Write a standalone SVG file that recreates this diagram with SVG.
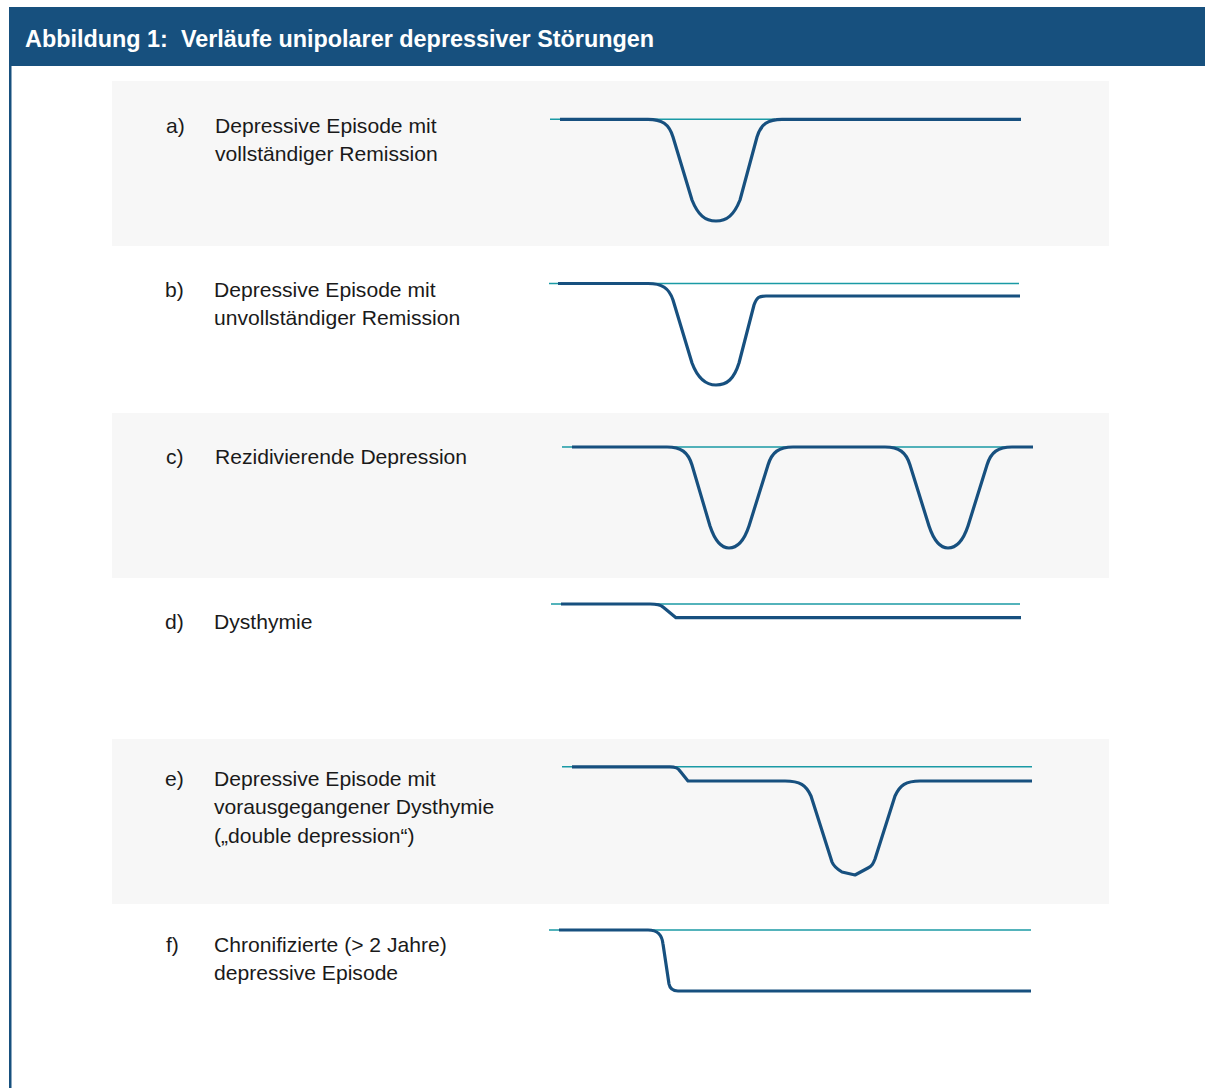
<svg xmlns="http://www.w3.org/2000/svg" width="1205" height="1088" viewBox="0 0 1205 1088">
<style>
.lbl{font-family:"Liberation Sans",Arial,sans-serif;font-size:21.1px;fill:#1a1a1a}
.ttl{font-family:"Liberation Sans",Arial,sans-serif;font-size:23.4px;font-weight:bold;fill:#ffffff;white-space:pre}
.panel{fill:#f7f7f7}
.ref{fill:none;stroke:#1a9aa5;stroke-width:1.6}
.crs{fill:none;stroke:#17507f;stroke-width:3.2;stroke-linejoin:round;stroke-linecap:butt}
</style>
<rect x="0" y="0" width="1205" height="1088" fill="#ffffff"/>
<rect x="9" y="7" width="1196" height="59" fill="#17507e"/>
<rect x="9" y="66" width="2.5" height="1022" fill="#17507e"/>
<text class="ttl" x="25" y="47">Abbildung 1:  Verläufe unipolarer depressiver Störungen</text>
<rect class="panel" x="112" y="81" width="997" height="165"/>
<rect class="panel" x="112" y="413" width="997" height="165"/>
<rect class="panel" x="112" y="739" width="997" height="165"/>

<g id="node-a">
<text class="lbl" x="166" y="133">a)</text>
<text class="lbl" x="215" y="133">Depressive Episode mit</text>
<text class="lbl" x="215" y="161">vollständiger Remission</text>
</g>
<g id="node-b">
<text class="lbl" x="165" y="297">b)</text>
<text class="lbl" x="214" y="297">Depressive Episode mit</text>
<text class="lbl" x="214" y="325">unvollständiger Remission</text>
</g>
<g id="node-c">
<text class="lbl" x="166" y="464">c)</text>
<text class="lbl" x="215" y="464">Rezidivierende Depression</text>
</g>
<g id="node-d">
<text class="lbl" x="165" y="629">d)</text>
<text class="lbl" x="214" y="629">Dysthymie</text>
</g>
<g id="node-e">
<text class="lbl" x="165" y="786">e)</text>
<text class="lbl" x="214" y="786">Depressive Episode mit</text>
<text class="lbl" x="214" y="814">vorausgegangener Dysthymie</text>
<text class="lbl" x="214" y="843">(„double depression“)</text>
</g>
<g id="node-f">
<text class="lbl" x="166" y="952">f)</text>
<text class="lbl" x="214" y="952">Chronifizierte (&gt; 2 Jahre)</text>
<text class="lbl" x="214" y="980">depressive Episode</text>
</g>

<g id="connectors">
<!-- a -->
<line class="ref" x1="550" y1="119.3" x2="775" y2="119.3"/>
<path class="crs" d="M560,119.3 L648,119.3 C662,119.3 669,124 673,137 L692,200 C698,215 705,221 716,221 C727,221 734,215 740,200 L757,137 C761,124 768,119.3 782,119.3 L1021,119.3"/>
<!-- b -->
<line class="ref" x1="549" y1="283.5" x2="1019" y2="283.5"/>
<path class="crs" d="M558,283.5 L648,283.5 C662,283.5 669,288 673,300 L692,363 C698,379 706,385 716,385 C727,385 734,379 739,363 L754,305 C757,297 759,296 766,296 L1020,296"/>
<!-- c -->
<line class="ref" x1="562" y1="447" x2="1030" y2="447"/>
<path class="crs" d="M572,447 L667,447 C681,447 688,452 692,465 L710,526 C715,541 721,548 729,548 C738,548 744,541 749,526 L768,465 C772,452 779,447 793,447 L885,447 C899,447 906,452 910,465 L929,526 C934,541 940,548 948,548 C957,548 963,541 968,526 L987,465 C991,452 998,447 1012,447 L1033,447"/>
<!-- d -->
<line class="ref" x1="551" y1="604" x2="1020" y2="604"/>
<path class="crs" d="M561,604 L650,604 C658,604 661,605 663,607 L676,617.7 L1021,617.7"/>
<!-- e -->
<line class="ref" x1="562" y1="766.8" x2="1032" y2="766.8"/>
<path class="crs" d="M572,766.8 L670,766.8 C676,766.8 678,768 680,771 L688,781 L785,781 C800,781 806,785 811,796 L832,862 C834,867 837,869 842,872 L855,875 L868,868 C872,866 873,864 875,859 L895,796 C900,785 906,781 920,781 L1032,781"/>
<!-- f -->
<line class="ref" x1="549" y1="930" x2="1031" y2="930"/>
<path class="crs" d="M559,930 L648,930 C658,930 662,935 663,944 L669,984 C670,989 673,991 678,991 L1031,991"/>
</g>
</svg>
